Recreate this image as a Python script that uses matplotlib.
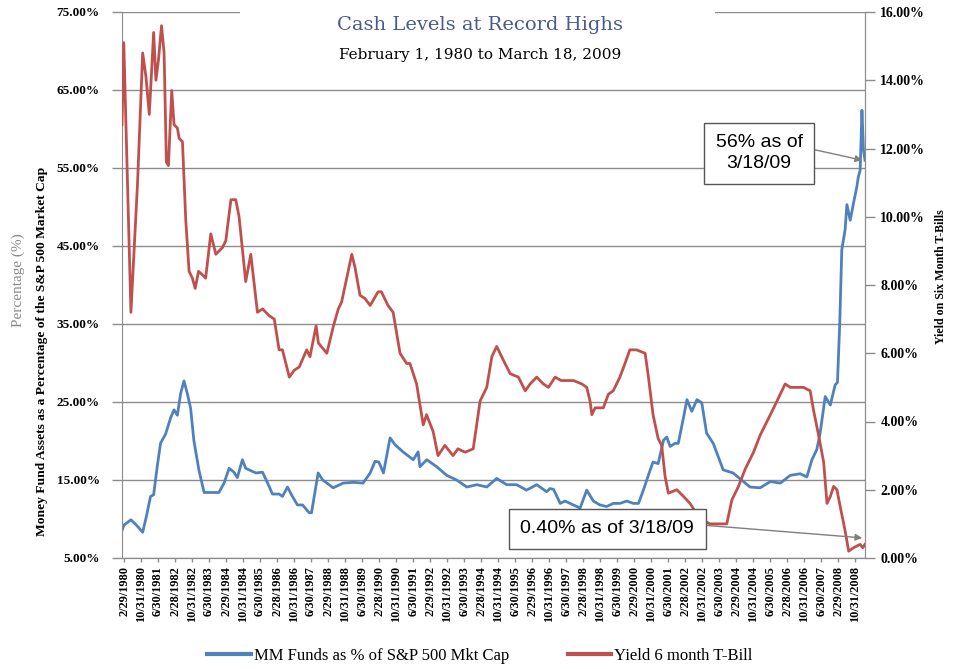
import numpy as np
import pandas as pd
import matplotlib
matplotlib.use("Agg")
import matplotlib.pyplot as plt
from matplotlib.patches import Rectangle

# money market fund assets as % of S&P 500 market cap (decimal year, %)
mm_years = [1980.08, 1980.15, 1980.43, 1980.65, 1980.89, 1981.02, 1981.20, 1981.32, 1981.46, 1981.59,
            1981.79, 1981.99, 1982.12, 1982.25, 1982.38, 1982.51, 1982.64, 1982.77, 1982.90, 1983.10,
            1983.30, 1983.49, 1983.88, 1984.08, 1984.28, 1984.47, 1984.60, 1984.80, 1984.93, 1985.13,
            1985.33, 1985.59, 1985.79, 1985.98, 1986.24, 1986.37, 1986.57, 1986.76, 1986.96, 1987.16,
            1987.42, 1987.51, 1987.77, 1987.95, 1988.36, 1988.75, 1989.14, 1989.53, 1989.81, 1990.00,
            1990.15, 1990.33, 1990.59, 1990.79, 1991.10, 1991.50, 1991.69, 1991.76, 1992.03, 1992.42,
            1992.81, 1993.20, 1993.60, 1993.99, 1994.38, 1994.77, 1995.16, 1995.55, 1995.94, 1996.34,
            1996.73, 1996.86, 1997.00, 1997.26, 1997.45, 1997.78, 1998.04, 1998.30, 1998.56, 1998.82,
            1999.08, 1999.34, 1999.60, 1999.87, 2000.13, 2000.33, 2000.52, 2000.79, 2000.90, 2001.10,
            2001.31, 2001.44, 2001.57, 2001.76, 2001.89, 2002.10, 2002.23, 2002.42, 2002.62, 2002.81,
            2003.00, 2003.26, 2003.65, 2004.04, 2004.37, 2004.70, 2005.10, 2005.50, 2005.89, 2006.28,
            2006.67, 2006.93, 2007.13, 2007.32, 2007.45, 2007.65, 2007.85, 2008.04, 2008.13, 2008.22,
            2008.30, 2008.43, 2008.50, 2008.63, 2008.76, 2008.89, 2008.95, 2009.02, 2009.09, 2009.15,
            2009.21]
mm_pct = [8.5, 9.2, 9.9, 9.2, 8.3, 10.1, 12.9, 13.1, 16.7, 19.7,
          20.9, 23.0, 24.0, 23.3, 26.1, 27.7, 26.1, 24.2, 20.0, 16.2,
          13.4, 13.4, 13.4, 14.6, 16.5, 16.0, 15.3, 17.6, 16.5, 16.2,
          15.9, 16.0, 14.6, 13.2, 13.2, 12.9, 14.1, 12.9, 11.8, 11.8,
          10.8, 10.8, 15.9, 15.0, 14.0, 14.6, 14.7, 14.6, 15.9, 17.4,
          17.3, 15.9, 20.4, 19.5, 18.6, 17.6, 18.6, 16.7, 17.6, 16.7,
          15.6, 15.0, 14.1, 14.4, 14.1, 15.2, 14.4, 14.4, 13.7, 14.4,
          13.5, 13.9, 13.8, 12.0, 12.3, 11.8, 11.4, 13.7, 12.3, 11.8,
          11.6, 12.0, 12.0, 12.3, 12.0, 12.0, 13.7, 16.3, 17.3, 17.1,
          20.1, 20.5, 19.3, 19.7, 19.7, 23.1, 25.3, 23.8, 25.3, 24.9,
          21.0, 19.7, 16.3, 15.9, 15.0, 14.1, 14.0, 14.8, 14.6, 15.6,
          15.8, 15.4, 17.6, 18.9, 21.0, 25.7, 24.6, 27.2, 27.5, 35.1,
          44.5, 47.1, 50.3, 48.3, 50.5, 52.6, 53.9, 54.7, 62.4, 57.3,
          56.0]

# yield on 6 month T-bill (decimal year, %)
tbill_years = [1980.08, 1980.15, 1980.43, 1980.69, 1980.89, 1981.02, 1981.15, 1981.32, 1981.41, 1981.51,
               1981.63, 1981.73, 1981.82, 1981.90, 1982.03, 1982.12, 1982.25, 1982.32, 1982.45, 1982.58,
               1982.71, 1982.84, 1982.95, 1983.08, 1983.23, 1983.36, 1983.56, 1983.76, 1984.02, 1984.15,
               1984.35, 1984.54, 1984.67, 1984.93, 1985.13, 1985.39, 1985.59, 1985.85, 1986.05, 1986.24,
               1986.37, 1986.64, 1986.83, 1987.03, 1987.32, 1987.45, 1987.69, 1987.78, 1988.11, 1988.37,
               1988.56, 1988.69, 1988.89, 1989.09, 1989.22, 1989.41, 1989.61, 1989.81, 1990.12, 1990.25,
               1990.51, 1990.71, 1990.98, 1991.24, 1991.37, 1991.63, 1991.89, 1992.02, 1992.28, 1992.47,
               1992.74, 1993.06, 1993.25, 1993.53, 1993.85, 1994.12, 1994.38, 1994.58, 1994.77, 1995.03,
               1995.30, 1995.62, 1995.89, 1996.08, 1996.34, 1996.60, 1996.80, 1997.06, 1997.30, 1997.65,
               1997.78, 1998.11, 1998.30, 1998.43, 1998.50, 1998.63, 1998.95, 1999.15, 1999.34, 1999.60,
               1999.80, 1999.99, 2000.25, 2000.59, 2000.72, 2000.90, 2001.10, 2001.24, 2001.37, 2001.50,
               2001.83, 2002.10, 2002.35, 2002.61, 2002.87, 2003.13, 2003.40, 2003.79, 2003.99, 2004.25,
               2004.51, 2004.84, 2005.10, 2005.50, 2005.76, 2006.08, 2006.28, 2006.54, 2006.80, 2007.06,
               2007.20, 2007.39, 2007.59, 2007.72, 2007.85, 2007.98, 2008.11, 2008.24, 2008.43, 2008.57,
               2008.76, 2009.02, 2009.12, 2009.21]
tbill_pct = [12.7, 15.1, 7.2, 11.0, 14.8, 14.1, 13.0, 15.4, 14.0, 14.6,
             15.6, 14.8, 11.6, 11.5, 13.7, 12.7, 12.6, 12.3, 12.2, 9.9,
             8.4, 8.2, 7.9, 8.4, 8.3, 8.2, 9.5, 8.9, 9.1, 9.3,
             10.5, 10.5, 10.0, 8.1, 8.9, 7.2, 7.3, 7.1, 7.0, 6.1,
             6.1, 5.3, 5.5, 5.6, 6.1, 5.9, 6.8, 6.3, 6.0, 6.8,
             7.3, 7.5, 8.2, 8.9, 8.5, 7.7, 7.6, 7.4, 7.8, 7.8,
             7.4, 7.2, 6.0, 5.7, 5.7, 5.1, 3.9, 4.2, 3.7, 3.0,
             3.3, 3.0, 3.2, 3.1, 3.2, 4.6, 5.0, 5.9, 6.2, 5.8,
             5.4, 5.3, 4.9, 5.1, 5.3, 5.1, 5.0, 5.3, 5.2, 5.2,
             5.2, 5.1, 5.0, 4.6, 4.2, 4.4, 4.4, 4.8, 4.9, 5.3,
             5.7, 6.1, 6.1, 6.0, 5.3, 4.2, 3.5, 3.3, 2.4, 1.9,
             2.0, 1.8, 1.6, 1.3, 1.1, 1.0, 1.0, 1.0, 1.7, 2.1,
             2.6, 3.1, 3.6, 4.2, 4.6, 5.1, 5.0, 5.0, 5.0, 4.9,
             4.3, 3.6, 2.8, 1.6, 1.8, 2.1, 2.0, 1.5, 0.8, 0.2,
             0.3, 0.4, 0.3, 0.4]

left_ticks = [5, 15, 25, 35, 45, 55, 65, 75]
right_ticks = [0, 2, 4, 6, 8, 10, 12, 14, 16]
tick_dates = pd.date_range("1980-02-29", "2009-03-18", freq="8ME")

BLUE = "#4f81bd"
RED = "#c0504d"
GRID = "#8c8c8c"
SERIF = ["Liberation Serif", "DejaVu Serif"]
SANS = ["Liberation Sans", "DejaVu Sans"]


def decimal_year(d):
    days = 366 if d.is_leap_year else 365
    return d.year + (d.dayofyear - 0.5) / days


fig = plt.figure(figsize=(9.55, 6.69), dpi=100)
ax = fig.add_axes([122 / 955, 1 - 558 / 669, 743 / 955, 546 / 669])
ax2 = ax.twinx()

ax.plot(mm_years, mm_pct, color=BLUE, lw=2.0, label="MM Funds as % of S&P 500 Mkt Cap")
ax2.plot(tbill_years, tbill_pct, color=RED, lw=2.0, label="Yield 6 month T-Bill")

ax.set_xlim(1980.08, 2009.21)
ax.set_ylim(5, 75)
ax2.set_ylim(0, 16)

ax.set_yticks(left_ticks)
ax.set_yticklabels([f"{v:.2f}%" for v in left_ticks], fontfamily=SERIF, fontweight="bold", fontsize=9.5)
ax2.set_yticks(right_ticks)
ax2.set_yticklabels([f"{v:.2f}%" for v in right_ticks], fontfamily=SERIF, fontweight="bold", fontsize=10)

xt = [decimal_year(d) for d in tick_dates]
ax.set_xticks(xt)
ax.set_xticklabels([f"{d.month}/{d.day}/{d.year}" for d in tick_dates], rotation=90,
                   fontfamily=SERIF, fontweight="bold", fontsize=8.8)

ax.grid(axis="y", color=GRID, lw=1)
ax.set_axisbelow(True)
for a in (ax, ax2):
    a.spines["top"].set_visible(False)
    for s in ("left", "right", "bottom"):
        a.spines[s].set_color(GRID)
    a.tick_params(colors=GRID, labelcolor="black", length=7, width=1)
ax.tick_params(axis="y", pad=9)
ax2.tick_params(axis="y", pad=4)
ax.tick_params(axis="x", length=3, pad=3)
ax2.spines["left"].set_visible(False)

fig.text(42 / 955, 1 - 351 / 669, "Money Fund Assets as a Percentage of the S&P 500 Market Cap",
         rotation=90, ha="center", va="center", fontfamily=SERIF, fontweight="bold", fontsize=9.7)
fig.text(18 / 955, 1 - 280 / 669, "Percentage (%)", rotation=90, ha="center", va="center",
         color="#8a8a8a", fontsize=11, fontfamily=SERIF)
fig.text(941 / 955, 1 - 277 / 669, "Yield on Six Month T-Bills", rotation=90, ha="center",
         va="center", fontfamily=SERIF, fontweight="bold", fontsize=8.6)

# title box hides the top gridline
fig.patches.append(Rectangle((240 / 955, 1 - 72 / 669), 475 / 955, 68 / 669,
                             transform=fig.transFigure, facecolor="white", edgecolor="none", zorder=2))
fig.text(480 / 955, 1 - 25 / 669, "Cash Levels at Record Highs", ha="center", va="center",
         color="#4a5a8c", fontsize=14, fontfamily=["DejaVu Serif"], zorder=3)
fig.text(480 / 955, 1 - 55 / 669, "February 1, 1980 to March 18, 2009", ha="center", va="center",
         color="black", fontsize=11, fontfamily=["DejaVu Serif"], zorder=3)

box = dict(boxstyle="square,pad=0.6", facecolor="white", edgecolor="#555555", lw=1)
ax.annotate("56% as of\n3/18/09", xy=(2009.1, 56), xytext=(2005.06, 56.9),
            ha="center", va="center", fontsize=14, fontfamily=SANS, linespacing=1.3, bbox=box,
            arrowprops=dict(arrowstyle="-|>", color="#7f7f7f", lw=1, shrinkA=0, shrinkB=0,
                            relpos=(1, 0.66), mutation_scale=10))
ax2.annotate("0.40% as of 3/18/09", xy=(2009.1, 0.59), xytext=(1999.1, 0.85),
             ha="center", va="center", fontsize=14, fontfamily=SANS, bbox=box,
             arrowprops=dict(arrowstyle="-|>", color="#7f7f7f", lw=1, shrinkA=0, shrinkB=0,
                             relpos=(1, 0.77), mutation_scale=10))

h1, l1 = ax.get_legend_handles_labels()
h2, l2 = ax2.get_legend_handles_labels()
leg = fig.legend(h1 + h2, l1 + l2, loc="center", bbox_to_anchor=(480 / 955, 1 - 656 / 669),
                 ncol=2, frameon=False, handlelength=2.6, columnspacing=3.5, handletextpad=0.2,
                 prop={"family": SERIF, "size": 12})
for line in leg.get_lines():
    line.set_linewidth(3)

fig.savefig("out.png", dpi=100)
